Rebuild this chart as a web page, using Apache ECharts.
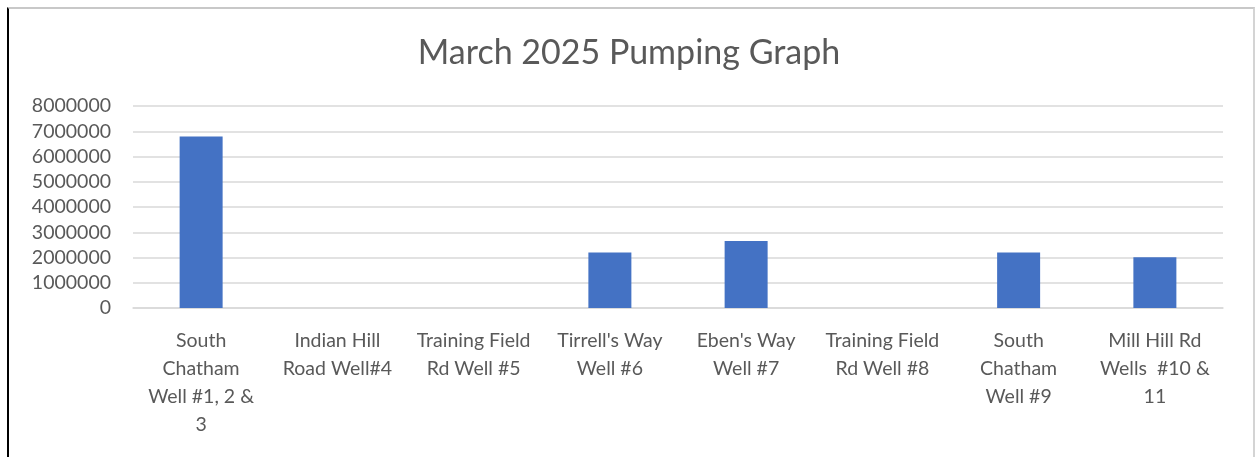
<html>
<head>
    <meta charset="utf-8">
    <title>ECharts</title>
    <script src="https://cdn.jsdelivr.net/npm/echarts@6/dist/echarts.min.js"></script>
    <style>
        body { margin: 0; background: #fff; }
        #frame {
            position: absolute; left: 7px; top: 7px; width: 1244px; height: 449px;
            border-left: 2px solid #000; border-top: 2px solid #c8c8c8; border-right: 2px solid #d4d4d4;
        }
    </style>
</head>
<body>
    <div id="frame"></div>
    <div id="main" style="position:absolute;left:0;top:0;width:1258px;height:457px;"></div>
    <script type="text/javascript">
        var myChart = echarts.init(document.getElementById('main'));

        // data
        var wells = [
            'South\nChatham\nWell #1, 2 &\n3',
            'Indian Hill\nRoad Well#4',
            'Training Field\nRd Well #5',
            "Tirrell's Way\nWell #6",
            "Eben's Way\nWell #7",
            'Training Field\nRd Well #8',
            'South\nChatham\nWell #9',
            'Mill Hill Rd\nWells  #10 &\n11'
        ];
        var pumped = [6790000, 0, 0, 2200000, 2650000, 0, 2200000, 2010000];

        var textColor = '#595959';
        var font = 'Lato';

        option = {
            animation: false,
            title: {
                text: 'March 2025 Pumping Graph',
                left: 'center',
                top: 31,
                textStyle: { fontFamily: font, fontSize: 34, fontWeight: 'normal', color: textColor }
            },
            grid: { left: 133, right: 35, top: 106, bottom: 149 },
            xAxis: {
                type: 'category',
                data: wells,
                axisLine: { lineStyle: { color: '#d9d9d9', width: 1.5 } },
                axisTick: { show: false },
                axisLabel: {
                    interval: 0, margin: 19, lineHeight: 28,
                    fontFamily: font, fontSize: 19.5, color: textColor, align: 'center'
                }
            },
            yAxis: {
                type: 'value',
                min: 0, max: 8000000, interval: 1000000,
                axisLine: { show: false },
                axisTick: { show: false },
                splitLine: { lineStyle: { color: '#d9d9d9', width: 1.5 } },
                axisLabel: {
                    margin: 22, fontFamily: font, fontSize: 19.5, color: textColor,
                    formatter: function (v) { return String(v); }
                }
            },
            series: [{
                type: 'bar',
                data: pumped,
                barWidth: 43,
                itemStyle: { color: '#4472c4' }
            }]
        };

        myChart.setOption(option);
    </script>
</body>
</html>
